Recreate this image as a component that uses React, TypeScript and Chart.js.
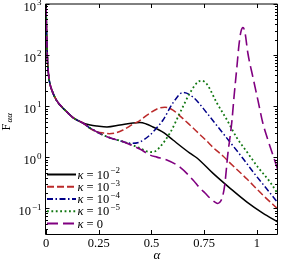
import React, { useEffect, useRef } from "react";
import { Chart, registerables } from "chart.js";

Chart.register(...registerables);

// ---------- data ----------
const commonAlpha = [0, 0.003, 0.007, 0.013, 0.02, 0.03, 0.05, 0.09, 0.13, 0.175];
const commonF = [1000, 250, 80, 38, 26, 19.5, 13, 8.4, 5.9, 4.7];

const alphaK2 = [0.21, 0.242, 0.289, 0.351, 0.412, 0.445, 0.475, 0.507, 0.526, 0.56, 0.602, 0.682, 0.716, 0.791, 0.872, 0.953, 1.028, 1.1];
const fK2 = [4.29, 4.1, 3.93, 4.29, 4.69, 4.8, 4.5, 3.93, 3.6, 3.0, 2.18, 1.21, 0.97, 0.49, 0.25, 0.133, 0.081, 0.054];

const alphaK3 = [0.21, 0.245, 0.27, 0.3, 0.33, 0.365, 0.414, 0.445, 0.479, 0.531, 0.564, 0.602, 0.64, 0.682, 0.73, 0.763, 0.791, 0.839, 0.872, 0.953, 1.028, 1.1];
const fK3 = [3.65, 3.15, 3.0, 2.9, 3.0, 3.42, 4.5, 5.25, 6.7, 9.0, 9.6, 8.4, 6.2, 4.3, 2.79, 2.08, 1.58, 1.06, 0.78, 0.376, 0.183, 0.097];

const alphaK4 = [0.209, 0.289, 0.366, 0.406, 0.445, 0.493, 0.526, 0.555, 0.602, 0.649, 0.697, 0.763, 0.825, 0.872, 0.934, 0.99, 1.047, 1.1];
const fK4 = [3.74, 2.53, 2.02, 1.88, 2.0, 2.73, 3.83, 5.37, 11.6, 18.5, 15.1, 7.36, 3.5, 2.0, 0.95, 0.47, 0.24, 0.128];

const alphaK5 = [0.209, 0.289, 0.366, 0.445, 0.493, 0.515, 0.54, 0.588, 0.635, 0.682, 0.72, 0.74, 0.763, 0.81, 0.858, 0.905, 0.953, 1.005, 1.062, 1.1];
const fK5 = [3.74, 2.53, 2.02, 1.52, 1.27, 1.3, 1.59, 3.0, 7.4, 18, 29.8, 31.5, 27, 11.6, 5.4, 2.4, 1.27, 0.64, 0.33, 0.19];

const alphaK0 = [0.209, 0.289, 0.366, 0.445, 0.493, 0.526, 0.573, 0.635, 0.697, 0.73, 0.754, 0.777, 0.801, 0.815, 0.829, 0.839, 0.848, 0.863, 0.872, 0.882, 0.891, 0.905, 0.915, 0.924, 0.934, 0.943, 0.957, 0.981, 1.005, 1.028, 1.052, 1.076, 1.1];
const fK0 = [3.74, 2.53, 2.02, 1.45, 1.11, 1.01, 0.885, 0.645, 0.36, 0.25, 0.2, 0.16, 0.133, 0.125, 0.14, 0.183, 0.3, 1.25, 2.39, 5.4, 14.5, 58, 158, 284, 345, 284, 110, 37, 13, 4.7, 2.2, 1.1, 0.56];

const legendExponents = ["−2", "−3", "−4", "−5", ""];
const xTicks = [0, 0.25, 0.5, 0.75, 1];
const xTickLabels = ["0", "0.25", "0.5", "0.75", "1"];
const yDecades = [-1, 0, 1, 2, 3];

const colors = ["#000000", "#bb2a2a", "#000088", "#117711", "#800080"];
const dashes: number[][] = [[], [7, 3], [6, 2.5, 1.5, 2.5], [1.8, 2.6], [11, 5]];
const widths = [1.5, 1.5, 1.5, 1.8, 1.6];

const FONT = "'Liberation Serif', 'DejaVu Serif', serif";

function pts(a: number[], f: number[]) {
  const xs = [...commonAlpha, ...a];
  const ys = [...commonF, ...f];
  return xs.map((x, i) => ({ x, y: ys[i] }));
}

function drawPow(ctx: CanvasRenderingContext2D, x: number, y: number, base: string, exp: string, size: number, alignRight: boolean) {
  ctx.font = `${size}px ${FONT}`;
  const bw = ctx.measureText(base).width;
  const es = size * 0.72;
  ctx.font = `${es}px ${FONT}`;
  const ew = exp ? ctx.measureText(exp).width : 0;
  const x0 = alignRight ? x - bw - ew - 1 : x;
  ctx.textAlign = "left";
  ctx.textBaseline = "alphabetic";
  ctx.font = `${size}px ${FONT}`;
  ctx.fillText(base, x0, y);
  if (exp) {
    ctx.font = `${es}px ${FONT}`;
    ctx.fillText(exp, x0 + bw + 1, y - size * 0.42);
  }
}

const decor = {
  id: "decor",
  afterDatasetsDraw(chart: any) {
    const ctx: CanvasRenderingContext2D = chart.ctx;
    const xs = chart.scales.x;
    const ys = chart.scales.y;
    const { left, right, top, bottom } = chart.chartArea;
    ctx.save();
    ctx.strokeStyle = "#000";
    ctx.fillStyle = "#000";
    ctx.lineWidth = 1;
    ctx.setLineDash([]);
    // frame
    ctx.beginPath();
    ctx.moveTo(left - 0.5, top);
    ctx.lineTo(right - 0.5, top);
    ctx.moveTo(left - 0.5, top);
    ctx.lineTo(left - 0.5, bottom + 0.5);
    ctx.lineTo(right - 0.5, bottom + 0.5);
    ctx.lineTo(right - 0.5, top);
    ctx.stroke();
    // x ticks
    ctx.beginPath();
    xTicks.forEach((t) => {
      const px = Math.round(xs.getPixelForValue(t)) + 0.5;
      ctx.moveTo(px, bottom);
      ctx.lineTo(px, bottom - 4);
      ctx.moveTo(px, top);
      ctx.lineTo(px, top + 4);
    });
    // y ticks (major + minor)
    for (let d = -2; d <= 3; d++) {
      for (let m = 1; m <= 9; m++) {
        const v = m * Math.pow(10, d);
        if (v < ys.min * 0.999 || v > ys.max * 1.001) continue;
        const py = Math.round(ys.getPixelForValue(v)) + 0.5;
        const len = m === 1 ? 4 : 2.5;
        ctx.moveTo(left - 0.5, py);
        ctx.lineTo(left - 0.5 + len, py);
        ctx.moveTo(right - 0.5, py);
        ctx.lineTo(right - 0.5 - len, py);
      }
    }
    ctx.stroke();
    // x tick labels
    ctx.font = `12.5px ${FONT}`;
    ctx.textAlign = "center";
    ctx.textBaseline = "alphabetic";
    xTicks.forEach((t, i) => {
      ctx.fillText(xTickLabels[i], xs.getPixelForValue(t), 246.5);
    });
    // y tick labels
    yDecades.forEach((d) => {
      const py = ys.getPixelForValue(Math.pow(10, d));
      drawPow(ctx, 41.5, py + 6.5, "10", d < 0 ? "−" + Math.abs(d) : String(d), 12.5, true);
    });
    // x title
    ctx.font = `italic 13px ${FONT}`;
    ctx.textAlign = "center";
    ctx.textBaseline = "alphabetic";
    ctx.fillText("α", 157, 258.5);
    // y title
    ctx.save();
    ctx.translate(10, 121);
    ctx.rotate(-Math.PI / 2);
    ctx.textAlign = "left";
    ctx.font = `12.5px ${FONT}`;
    ctx.fillText("F", -9.5, 0);
    ctx.font = `italic 9px ${FONT}`;
    ctx.fillText("αα", -1.5, 2.2);
    ctx.restore();
    // legend
    legendExponents.forEach((e, i) => {
      const cy = 174.5 + i * 12.25;
      ctx.save();
      ctx.strokeStyle = colors[i];
      ctx.lineWidth = 2;
      ctx.setLineDash(dashes[i]);
      ctx.beginPath();
      ctx.moveTo(47, cy);
      ctx.lineTo(76, cy);
      ctx.stroke();
      ctx.restore();
      const by = cy + 4.2;
      ctx.font = `italic 12.5px ${FONT}`;
      ctx.textAlign = "left";
      ctx.fillText("κ", 77.5, by);
      const kw = ctx.measureText("κ").width;
      if (e) {
        drawPow(ctx, 77.5 + kw, by, " = 10", e, 12.5, false);
      } else {
        ctx.font = `12.5px ${FONT}`;
        ctx.fillText(" = 0", 77.5 + kw, by);
      }
    });
    ctx.restore();
  },
};

export default function App() {
  const ref = useRef<HTMLCanvasElement | null>(null);
  useEffect(() => {
    document.body.style.margin = "0";
    const canvas = ref.current!;
    const series = [
      pts(alphaK2, fK2),
      pts(alphaK3, fK3),
      pts(alphaK4, fK4),
      pts(alphaK5, fK5),
      pts(alphaK0, fK0),
    ];
    const chart = new Chart(canvas, {
      type: "line",
      data: {
        datasets: series.map((d, i) => ({
          data: d,
          borderColor: colors[i],
          borderWidth: widths[i],
          borderDash: dashes[i],
          pointRadius: 0,
          fill: false,
          cubicInterpolationMode: "monotone" as const,
          order: 4 - i,
        })),
      },
      options: {
        animation: false,
        responsive: false,
        devicePixelRatio: 1,
        layout: { padding: { left: 46, top: 4, right: 3, bottom: 31 } },
        plugins: { legend: { display: false }, tooltip: { enabled: false } },
        scales: {
          x: { type: "linear", min: 0, max: 1.1, display: false },
          y: { type: "logarithmic", min: Math.pow(10, -1.5), max: 1000, display: false },
        },
      },
      plugins: [decor],
    });
    return () => chart.destroy();
  }, []);
  return <canvas ref={ref} width={281} height={265} style={{ display: "block", width: 281, height: 265 }} />;
}
